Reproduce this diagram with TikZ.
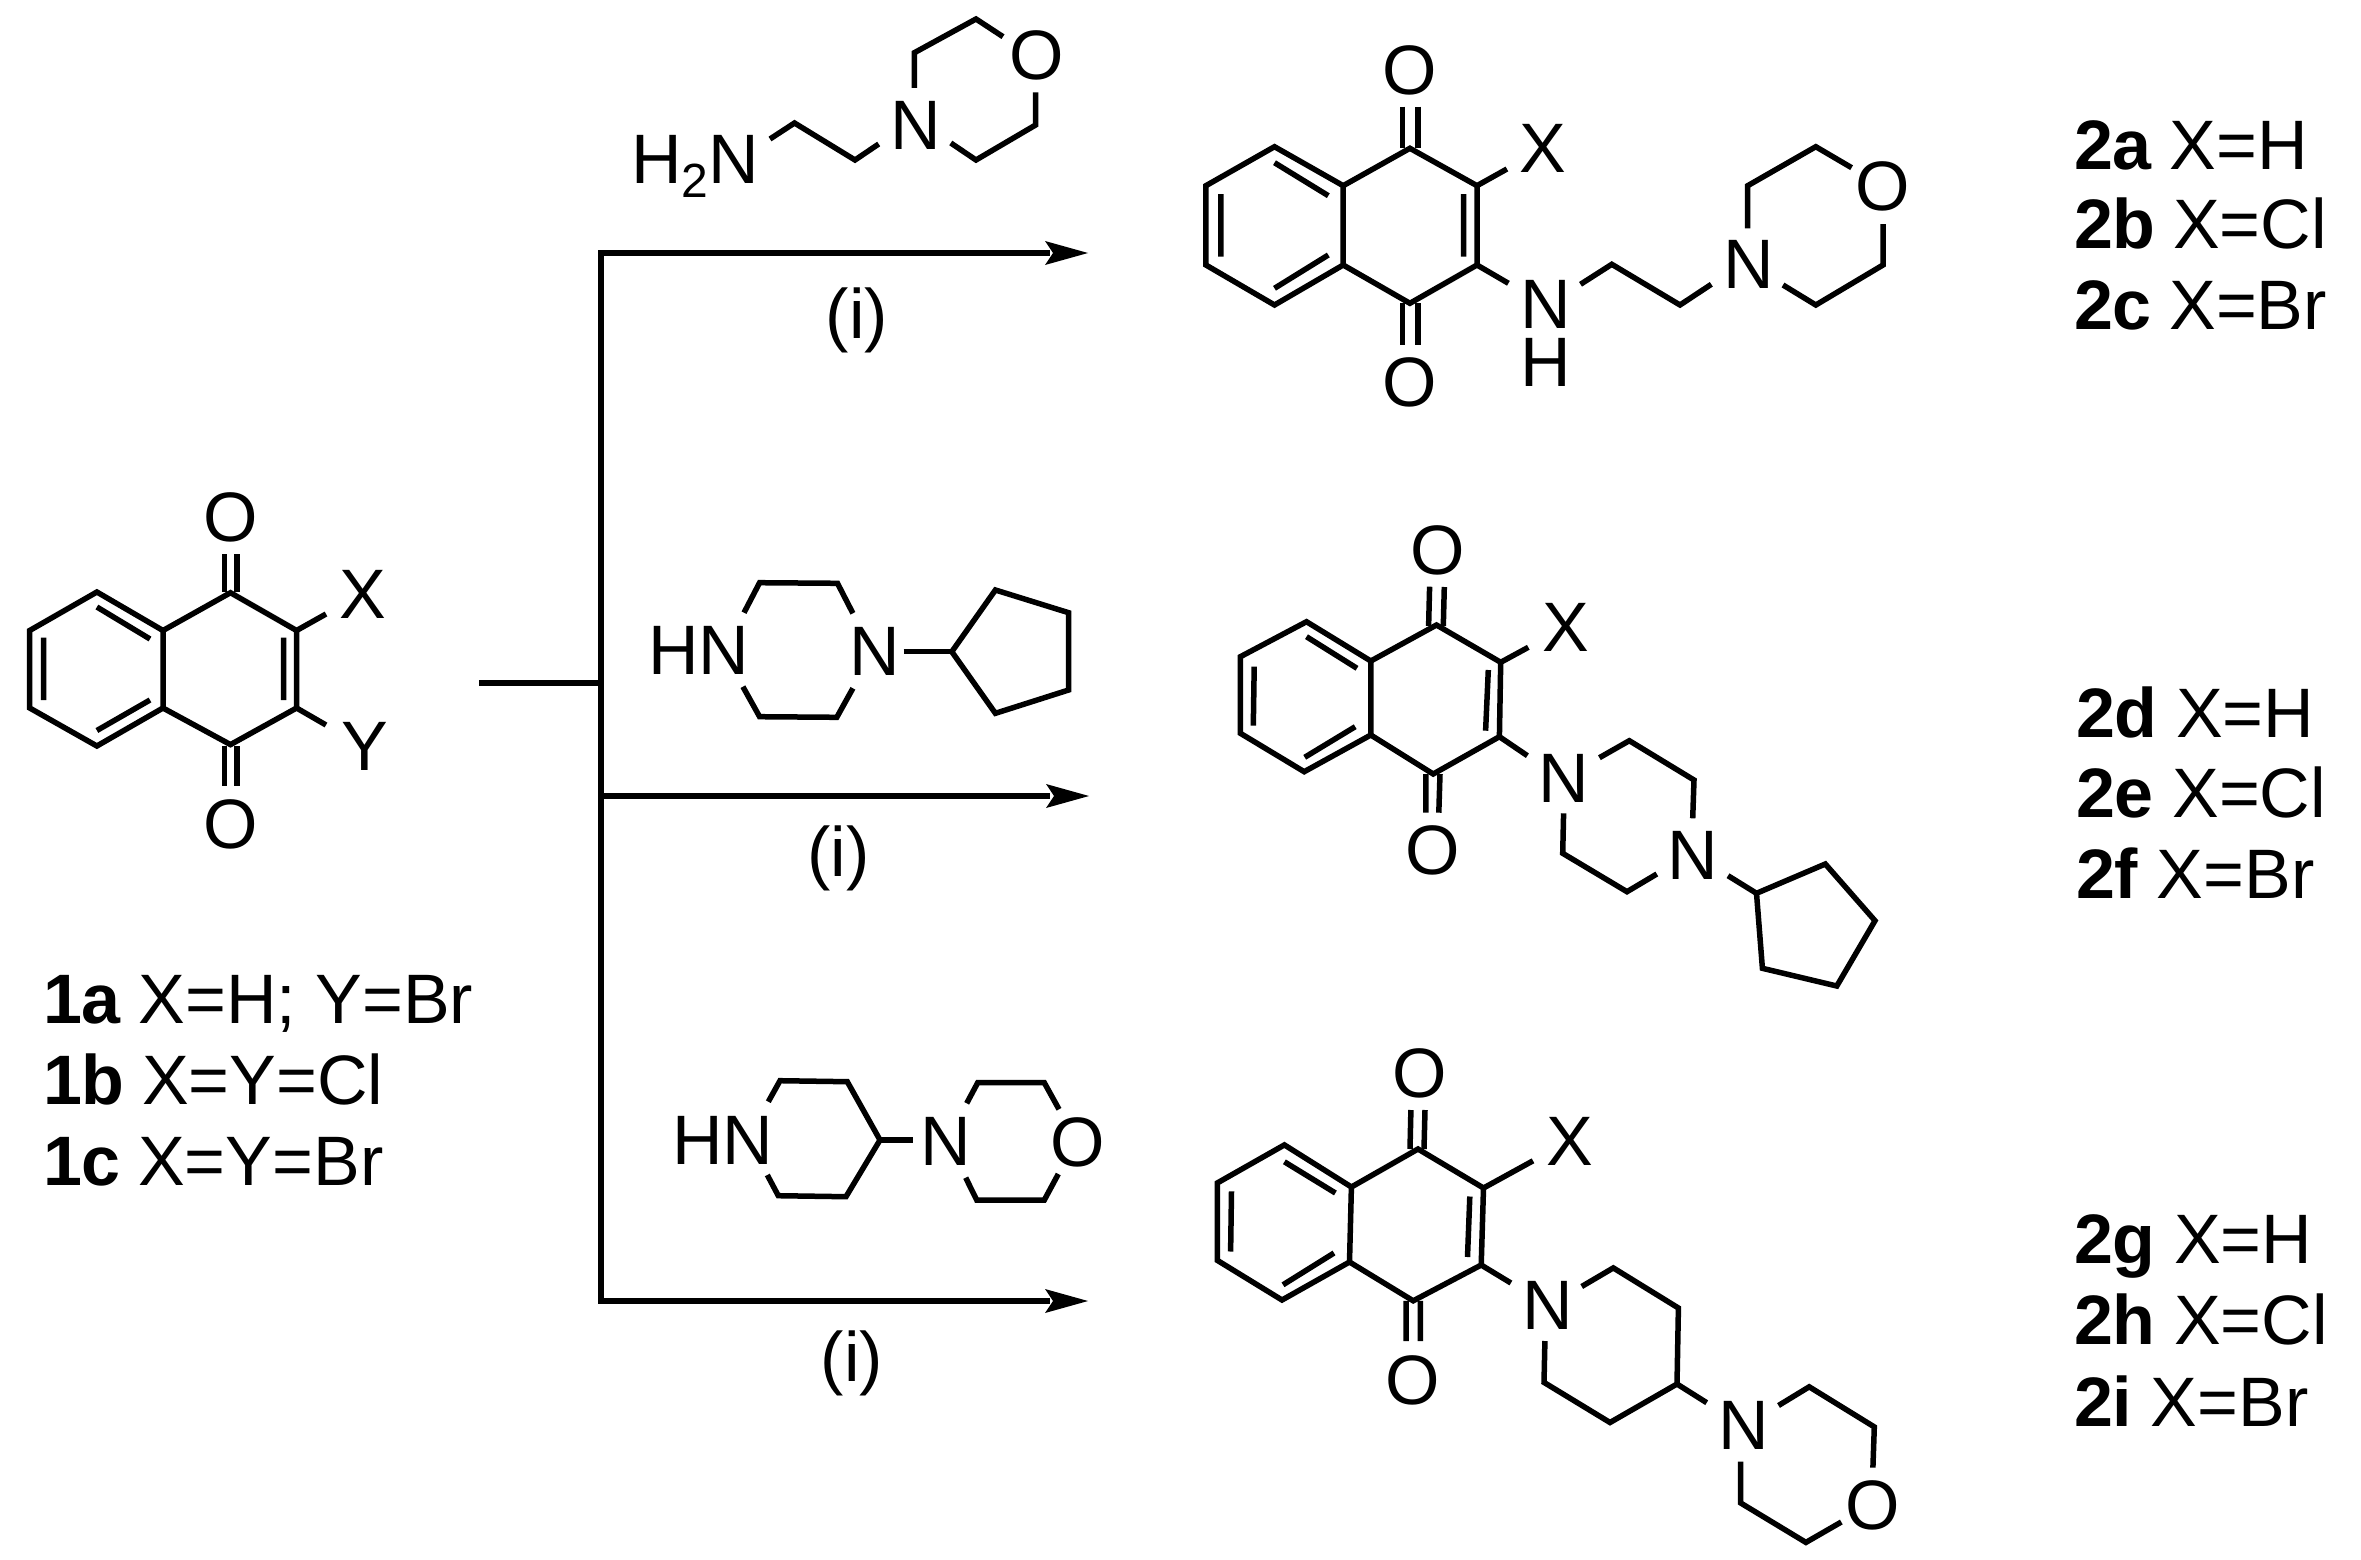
\documentclass[tikz,border=0pt]{standalone}
\usepackage{fontspec}
\setmainfont{Liberation Sans}
\tikzset{
  bond/.style={line width=5.5pt,line cap=butt,line join=miter,miter limit=3},
  atom/.style={inner sep=0pt,outer sep=0pt,font=\fontsize{70}{70}\selectfont},
  lbl/.style={inner sep=0pt,outer sep=0pt,anchor=base west,font=\fontsize{70}{70}\selectfont},
  flow/.style={line width=5.5pt,line cap=butt},
}
\newcommand{\tip}[2]{\fill (#1+1,#2) -- (#1-42,#2-12) -- (#1-34,#2) -- (#1-42,#2+12) -- cycle;}
\begin{document}
\begin{tikzpicture}[x=1pt,y=-1pt]
\useasboundingbox (0,0) rectangle (2361,1560);
% flow lines
\coordinate (stub) at (479,683);
\coordinate (jn) at (601,683);
\coordinate (t1) at (601,253);
\coordinate (t2) at (601,796);
\coordinate (t3) at (601,1301);
\coordinate (e1) at (1050,253);
\coordinate (e2) at (1050,796);
\coordinate (e3) at (1050,1301);
\draw[flow] (stub) -- (jn);
\draw[flow,line width=6.5pt] ([yshift=3pt]t1) -- ([yshift=-3pt]t3);
\draw[flow] (t1) -- (e1);
\draw[flow] (t2) -- (e2);
\draw[flow] (t3) -- (e3);
\tip{1087}{253}
\tip{1088}{796}
\tip{1087}{1301}
\node[atom] (i1) at (857,320) {(i)};
\node[atom] (i2) at (838.5,858) {(i)};
\node[atom] (i3) at (852,1363) {(i)};
% compound 1
\draw[bond] (163,630.5) -- (96.9,592) -- (29.7,630.5) -- (29.7,708) -- (96.9,746) -- (163,708) -- cycle;
\draw[bond] (163,630.5) -- (230.5,592.7) -- (296.6,630.5) -- (296.6,708) -- (230.5,744.6) -- (163,708);
\draw[bond] (43.5,637.5) -- (43.5,700) (96.9,607) -- (150,639) (96.9,730.5) -- (150,700) (283.5,637.5) -- (283.5,700);
\draw[bond] (224.6,554) -- (224.6,592) (237,554) -- (237,592) (224.6,746) -- (224.6,786) (237,746) -- (237,786);
\draw[bond] (296.6,630.5) -- (326,614) (296.6,708) -- (326,725);
\node[atom] (o1a) at (230.5,517) {O};
\node[atom] (o1b) at (230.5,824) {O};
\node[atom] (x1) at (362.6,594) {X};
\node[atom] (y1) at (364.6,746) {Y};
\node[lbl] (l1a) at (43,1023) {\textbf{1a} \kern-2pt X=H; Y=Br};
\node[lbl] (l1b) at (43,1104.7) {\textbf{1b} \kern-2pt X=Y=Cl};
\node[lbl] (l1c) at (43,1185) {\textbf{1c} \kern-2pt X=Y=Br};
% reagent 1
\node[lbl] (h2n) at (631,183) {H\raisebox{-14pt}{\fontsize{48}{48}\selectfont 2}N};
\draw[bond] (770,139) -- (794.5,123) -- (855,160) -- (878.7,144);
\node[atom] (rn1) at (915.7,125) {N};
\node[atom] (ro1) at (1037,55.7) {O};
\draw[bond] (914.4,88) -- (914.4,52.7) -- (976,19) -- (1003,36.7);
\draw[bond] (1035.6,92.3) -- (1035.6,125) -- (976,160) -- (950.8,143);
% product 2a
\draw[bond] (1343.2,185.7) -- (1274.5,146.7) -- (1205.9,185.7) -- (1205.9,265) -- (1274.5,305) -- (1343.2,265) -- cycle;
\draw[bond] (1343.2,185.7) -- (1409.9,148.3) -- (1477,185.7) -- (1477,265) -- (1409.9,303.3) -- (1343.2,265);
\draw[bond] (1220.8,194) -- (1220.8,256.7) (1274.5,162.7) -- (1328.3,195.7) (1274.5,288.3) -- (1328.3,255) (1463.6,194) -- (1463.6,256.7);
\draw[bond] (1402.4,106.7) -- (1402.4,148) (1417.8,106.7) -- (1417.8,148) (1402.4,303) -- (1402.4,345) (1417.8,303) -- (1417.8,345);
\draw[bond] (1477,185.7) -- (1506.9,169) (1477,265) -- (1508.4,283.3);
\node[atom] (o2a) at (1409.9,70) {O};
\node[atom] (o2b) at (1409.9,382.3) {O};
\node[atom] (x2) at (1543,148.5) {X};
\node[atom] (n2) at (1545.7,304) {N};
\node[atom] (h2) at (1545.7,362.7) {H};
\draw[bond] (1580.5,284.3) -- (1611.8,264.3) -- (1680,305) -- (1711.3,284.3);
\node[atom] (n2b) at (1748.7,264.3) {N};
\node[atom] (o2c) at (1883,186.7) {O};
\draw[bond] (1747.7,228.3) -- (1747.7,185.7) -- (1815.8,146.7) -- (1851.6,167.7);
\draw[bond] (1883,224) -- (1883,265) -- (1815.8,305) -- (1783,285);
\node[lbl] (l2a) at (2074,169) {\textbf{2a} \kern-2pt X=H};
\node[lbl] (l2b) at (2074,248.7) {\textbf{2b} \kern-2pt X=Cl};
\node[lbl] (l2c) at (2074,329.3) {\textbf{2c} \kern-2pt X=Br};
% reagent 2
\node[lbl] (hn2) at (648,674.3) {HN};
\node[atom] (rn2) at (875,651.7) {N};
\draw[bond] (744,612.7) -- (759.6,582.7) -- (837.5,583.3) -- (852.9,613.3);
\draw[bond] (742.9,686.7) -- (759.6,716.7) -- (836.8,717.3) -- (852.9,688.3);
\draw[bond] (903.6,651.7) -- (951.8,651.7);
\draw[bond] (951.8,651.7) -- (995.4,590) -- (1068.6,612.7) -- (1068.6,690) -- (995.4,713.3) -- cycle;
% product 2d
\draw[bond] (1370.8,661) -- (1306.5,621.7) -- (1240.4,656.7) -- (1240.4,733.3) -- (1304.2,771.7) -- (1370.8,735) -- cycle;
\draw[bond] (1370.8,661) -- (1436.5,625) -- (1500.7,662.3) -- (1499.4,736.7) -- (1433.2,774) -- (1370.8,735);
\draw[bond] (1254.2,666.7) -- (1253.3,725.7) (1306.5,636.7) -- (1357,668.3) (1304.7,757.3) -- (1355.2,726.7) (1488.3,670) -- (1485.6,730.7);
\draw[bond] (1429.6,586.7) -- (1428.6,626) (1444.3,587) -- (1443.3,626) (1425.9,774) -- (1425.9,812.7) (1440,774) -- (1438.8,812.7);
\draw[bond] (1500.7,662.3) -- (1528.3,647.3) (1499.4,736.7) -- (1527.4,755.7);
\node[atom] (o3a) at (1437.8,550) {O};
\node[atom] (o3b) at (1432.8,850.7) {O};
\node[atom] (x3) at (1565.5,627.5) {X};
\node[atom] (n3a) at (1564,778.3) {N};
\node[atom] (n3b) at (1692.7,855) {N};
\draw[bond] (1599.4,757.7) -- (1629.3,740.7) -- (1694,780) -- (1692.7,818.3);
\draw[bond] (1656.8,874) -- (1627,891.7) -- (1562.7,853.3) -- (1563.6,813.3);
\draw[bond] (1728,875.7) -- (1756.5,893.3);
\draw[bond] (1756.5,893.3) -- (1825.3,864) -- (1875,920.7) -- (1836.8,986) -- (1762.4,968.3) -- cycle;
\node[lbl] (l2d) at (2076,737) {\textbf{2d} \kern-1pt X=H};
\node[lbl] (l2e) at (2076,817.7) {\textbf{2e} \kern-1pt X=Cl};
\node[lbl] (l2f) at (2076,898) {\textbf{2f} \kern-1pt X=Br};
% reagent 3
\node[lbl] (hn3) at (672,1164) {HN};
\node[atom] (rn3) at (945.7,1141.7) {N};
\node[atom] (ro3) at (1077.7,1142.7) {O};
\draw[bond] (768.3,1101.7) -- (780,1080.7) -- (847.3,1081.7) -- (880,1140) -- (846,1196.7) -- (778.3,1195.7) -- (767.3,1175);
\draw[bond] (880,1140) -- (912.7,1140);
\draw[bond] (966.7,1103.3) -- (977.7,1082.7) -- (1044.3,1082.7) -- (1059,1109.3);
\draw[bond] (965.7,1177.7) -- (976.7,1200) -- (1044.3,1200) -- (1058.3,1174);
% product 2g
\draw[bond] (1351.4,1187) -- (1284.4,1144.9) -- (1217.4,1182.9) -- (1217.4,1260.4) -- (1282,1300) -- (1349.5,1262) -- cycle;
\draw[bond] (1351.4,1187) -- (1418,1149) -- (1483.5,1188) -- (1481.2,1265) -- (1413.2,1300.8) -- (1349.5,1262);
\draw[bond] (1231.5,1191.4) -- (1230.6,1251.5) (1284.4,1161.8) -- (1335.4,1193) (1283,1284.8) -- (1334,1253) (1469.8,1196.5) -- (1467.5,1257);
\draw[bond] (1410.9,1110) -- (1410,1149) (1425,1110) -- (1424,1149) (1406,1300.8) -- (1406,1341) (1420.3,1300.8) -- (1420.3,1341);
\draw[bond] (1483.5,1188) -- (1533,1160.8) (1481.2,1265) -- (1510.9,1283);
\node[atom] (o4a) at (1419.8,1073) {O};
\node[atom] (o4b) at (1413.2,1380) {O};
\node[atom] (x4) at (1569.9,1141) {X};
\node[atom] (n4a) at (1547.7,1305.2) {N};
\draw[bond] (1581.7,1286.5) -- (1613.3,1267.9) -- (1678.4,1308) -- (1677,1384) -- (1610,1422.5) -- (1544,1382.4) -- (1544.9,1341);
\draw[bond] (1677,1384) -- (1706.7,1402.7);
\node[atom] (n4b) at (1743.6,1425.9) {N};
\node[atom] (o4c) at (1872.9,1505) {O};
\draw[bond] (1778.5,1405.5) -- (1809.2,1386.8) -- (1874.3,1426.9) -- (1872.9,1467.6);
\draw[bond] (1841.3,1522) -- (1805.9,1542.4) -- (1740.7,1503) -- (1740.7,1461.5);
\node[lbl] (l2g) at (2074,1263) {\textbf{2g} \kern-1pt X=H};
\node[lbl] (l2h) at (2074,1344.7) {\textbf{2h} \kern-1pt X=Cl};
\node[lbl] (l2i) at (2074,1426.7) {\textbf{2i} \kern-1pt X=Br};
\end{tikzpicture}
\end{document}
